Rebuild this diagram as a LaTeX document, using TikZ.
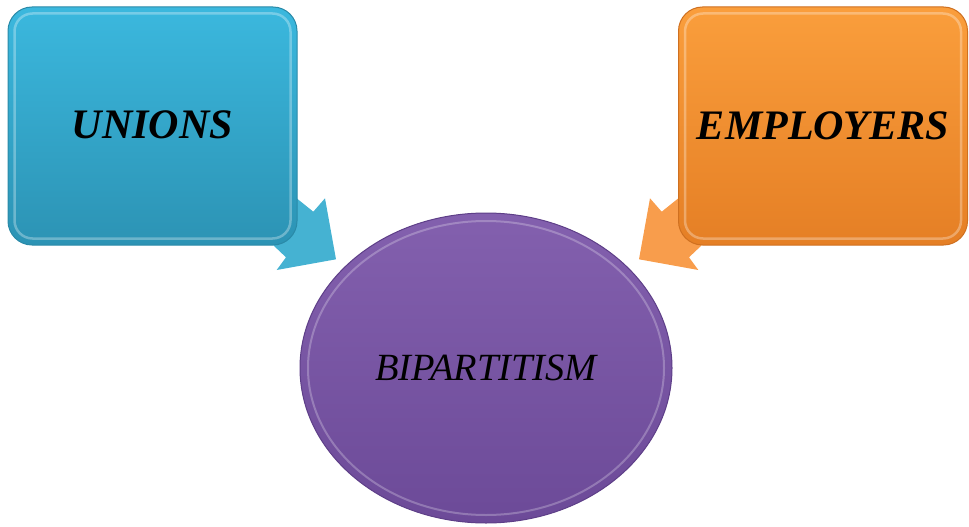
\documentclass[tikz,border=0pt]{standalone}
\usepackage{fontspec}
\setmainfont{Liberation Serif}
\usetikzlibrary{shapes.geometric}
\definecolor{bluetop}{HTML}{3BB8DE}
\definecolor{bluebot}{HTML}{2C93B4}
\definecolor{blueedge}{HTML}{2A8AA8}
\definecolor{bluearrow}{HTML}{45B2D2}
\definecolor{orangetop}{HTML}{FA9E3C}
\definecolor{orangebot}{HTML}{E57F25}
\definecolor{orangeedge}{HTML}{CF7020}
\definecolor{orangearrow}{HTML}{F89D4C}
\definecolor{purpletop}{HTML}{8360AE}
\definecolor{purplebot}{HTML}{6C4A98}
\definecolor{purpleedge}{HTML}{5E3F88}
\tikzset{
  sidebox/.style={rounded corners=24pt, minimum width=289pt, minimum height=238pt,
    inner sep=0pt, font=\fontsize{42}{50}\selectfont\bfseries\itshape, text=black},
  unionbox/.style={sidebox, top color=bluetop, bottom color=bluebot, draw=blueedge, line width=1pt},
  employbox/.style={sidebox, top color=orangetop, bottom color=orangebot, draw=orangeedge, line width=1pt},
  centreoval/.style={ellipse, minimum width=372pt, minimum height=310pt, inner sep=0pt,
    top color=purpletop, bottom color=purplebot, draw=purpleedge, line width=1pt,
    font=\fontsize{38.5}{46}\selectfont\itshape, text=black},
  blockarrow/.style={line width=0.4pt, line join=miter},
  bevel/.style={white, opacity=0.3, line width=2.5pt, rounded corners=18pt}
}
\begin{document}
\begin{tikzpicture}[x=1pt, y=-1pt]
\useasboundingbox (0,0) rectangle (969,527);
% block arrows (behind boxes)
\fill[bluearrow, blockarrow] (247,158) -- (296.7,198.3) -- (313.3,211.7) -- (325,198.3)
  -- (336,259.3) -- (276.7,270) -- (286,257.3) -- (273,245) -- (234,209) -- cycle;
\fill[orangearrow, blockarrow] (728,158) -- (678.3,198.3) -- (661.7,211.7) -- (650,198.3)
  -- (639,259.3) -- (698.3,270) -- (689,257.3) -- (702,245) -- (741,209) -- cycle;
% boxes
\node[unionbox] (unions) at (152.5,126) {\raisebox{3pt}{UNIONS}};
\node[employbox] (employers) at (823,126) {EMPLOYERS};
% central oval
\node[centreoval] (bip) at (486,368) {BIPARTITISM};
% bevel highlights
\draw[bevel] ([shift={(7pt,7pt)}]unions.south west) rectangle ([shift={(-7pt,-7pt)}]unions.north east);
\draw[bevel] ([shift={(7pt,7pt)}]employers.south west) rectangle ([shift={(-7pt,-7pt)}]employers.north east);
\draw[white, opacity=0.25, line width=2pt] (bip.center) ellipse [x radius=178pt, y radius=147pt];
\end{tikzpicture}
\end{document}
